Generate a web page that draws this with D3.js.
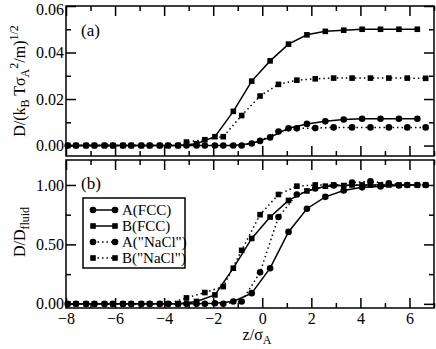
<!DOCTYPE html>
<html>
<head>
<meta charset="utf-8">
<script src="https://cdn.jsdelivr.net/npm/d3@7"></script>
<style>
  body { margin: 0; background: #fff; }
  svg text { font-family: "Liberation Serif", "DejaVu Serif", serif; }
  .axis path { stroke: #000; stroke-width: 1.5; }
  .axis line { stroke: #000; stroke-width: 1.5; }
  .axis text { font-size: 16px; fill: #000; }
</style>
</head>
<body>
<div id="chart"></div>
<script>
// z positions (in units of sigma_A) of the two sampling grids
var zFCC = [-7.93, -7.18, -6.43, -5.68, -4.93, -4.18, -3.43, -2.68, -1.93, -1.18,
            -0.43, 0.32, 1.07, 1.82, 2.57, 3.32, 4.07, 4.82, 5.57, 6.32];
var zNaCl = [-7.59, -6.84, -6.09, -5.34, -4.59, -3.84, -3.09, -2.34, -1.59, -0.84,
             -0.09, 0.66, 1.41, 2.16, 2.91, 3.66, 4.41, 5.16, 5.91, 6.66];

// panel (a): D in units of (kB T sigma_A^2 / m)^1/2
var topA_FCC = [0, 0, 0, 0, 0, 0, 0, 0, 0, 0,
                0.0009, 0.0035, 0.0074, 0.0093, 0.0104, 0.0112, 0.0115, 0.0115, 0.0115, 0.0115];
var topB_FCC = [0, 0, 0, 0, 0, 0, 0, 0.0008, 0.0038, 0.0147,
                0.0277, 0.0364, 0.0436, 0.0476, 0.0491, 0.0496, 0.0500, 0.0500, 0.0500, 0.0500];
var topA_NaCl = [0, 0, 0, 0, 0, 0, 0, 0, 0, 0,
                 0.0020, 0.0060, 0.0074, 0.0075, 0.0078, 0.0078, 0.0078, 0.0078, 0.0078, 0.0078];
var topB_NaCl = [0, 0, 0, 0, 0, 0, 0.0015, 0.0025, 0.0038, 0.0129,
                 0.0213, 0.0263, 0.0281, 0.0287, 0.0290, 0.0290, 0.0290, 0.0290, 0.0290, 0.0289];

// panel (b): D / D_fluid
var botA_FCC = [0, 0, 0, 0, 0, 0, 0, 0, 0.005, 0.02,
                0.09, 0.30, 0.605, 0.80, 0.90, 0.954, 0.98, 0.987, 0.996, 1.0];
var botB_FCC = [0, 0, 0, 0, 0, 0, 0, 0.02, 0.075, 0.30,
                0.55, 0.73, 0.87, 0.95, 0.99, 0.995, 1.0, 1.0, 1.0, 1.0];
var botA_NaCl = [0, 0, 0, 0, 0, 0, 0, 0, 0, 0.02,
                 0.265, 0.73, 0.92, 0.97, 0.995, 1.02, 1.03, 1.015, 1.0, 1.0];
var botB_NaCl = [0, 0, 0, 0, 0, 0, 0.05, 0.095, 0.145, 0.45,
                 0.75, 0.92, 0.99, 1.0, 1.0, 1.0, 1.0, 1.0, 1.0, 1.0];

var legendLabels = ["A(FCC)", "B(FCC)", "A(\"NaCl\")", "B(\"NaCl\")"];
var xTicks = [-8, -6, -4, -2, 0, 2, 4, 6];
var xMinor = [-7, -5, -3, -1, 1, 3, 5, 7];
var topTicks = [0, 0.02, 0.04, 0.06];
var topMinor = [0.01, 0.03, 0.05];
var botTicks = [0, 0.5, 1.0];
var botMinor = [0.25, 0.75];

var svgWidth = 436;
var svgHeight = 349;
var left = 66, right = 434;
var serif = "'Liberation Serif', 'DejaVu Serif', serif";

var svg = d3.select("#chart")
  .append("svg")
  .attr("width", svgWidth)
  .attr("height", svgHeight);

var x = d3.scaleLinear().domain([-8, 7]).range([left, right]);

var yTop = d3.scaleLinear().domain([-0.0045, 0.06]).range([156, 6]);
var yBot = d3.scaleLinear().domain([-0.035, 1.21]).range([308, 160]);

var fmt = d3.format(".2f");

// frame with inward ticks on all four sides
function drawFrame(y, top, bottom, major, minor, showX) {
  var g = svg.append("g");

  g.append("g").attr("class", "axis")
    .attr("transform", `translate(0,${bottom})`)
    .call(d3.axisBottom(x).tickValues(xTicks).tickSize(-10).tickPadding(5)
      .tickFormat(showX ? d3.format("") : ""));
  g.append("g").attr("class", "axis")
    .attr("transform", `translate(0,${bottom})`)
    .call(d3.axisBottom(x).tickValues(xMinor).tickSize(-5).tickFormat(""));

  g.append("g").attr("class", "axis")
    .attr("transform", `translate(0,${top})`)
    .call(d3.axisTop(x).tickValues(xTicks).tickSize(-10).tickFormat(""));
  g.append("g").attr("class", "axis")
    .attr("transform", `translate(0,${top})`)
    .call(d3.axisTop(x).tickValues(xMinor).tickSize(-5).tickFormat(""));

  g.append("g").attr("class", "axis")
    .attr("transform", `translate(${left},0)`)
    .call(d3.axisLeft(y).tickValues(major).tickSize(-10).tickPadding(2).tickFormat(fmt));
  g.append("g").attr("class", "axis")
    .attr("transform", `translate(${left},0)`)
    .call(d3.axisLeft(y).tickValues(minor).tickSize(-5).tickFormat(""));

  g.append("g").attr("class", "axis")
    .attr("transform", `translate(${right},0)`)
    .call(d3.axisRight(y).tickValues(major).tickSize(-10).tickFormat(""));
  g.append("g").attr("class", "axis")
    .attr("transform", `translate(${right},0)`)
    .call(d3.axisRight(y).tickValues(minor).tickSize(-5).tickFormat(""));

  g.selectAll("g.axis").attr("font-family", serif);
  g.selectAll("path.domain").remove();
  g.append("rect")
    .attr("x", left).attr("y", top)
    .attr("width", right - left).attr("height", bottom - top)
    .attr("fill", "none").attr("stroke", "#000").attr("stroke-width", 1.5);
}

drawFrame(yTop, 6, 156, topTicks, topMinor, false);
drawFrame(yBot, 160, 308, botTicks, botMinor, true);

// keep the top label inside the picture
svg.selectAll("g.axis text").filter(function() { return this.textContent == "0.06"; })
  .attr("dy", "0.5em");

// series drawing
function drawSeries(y, zs, vals, shape, dotted) {
  var pts = zs.map(function(z, i) { return [z, vals[i]]; });
  var line = d3.line().x(d => x(d[0])).y(d => y(d[1]));
  svg.append("path")
    .datum(pts)
    .attr("d", line)
    .attr("fill", "none")
    .attr("stroke", "#000")
    .attr("stroke-width", 1.5)
    .attr("stroke-dasharray", dotted ? "1.5,3" : null);

  if (shape == "circle") {
    svg.selectAll(null).data(pts).enter().append("circle")
      .attr("cx", d => x(d[0]))
      .attr("cy", d => y(d[1]))
      .attr("r", 3.3)
      .attr("fill", "#000");
  } else {
    svg.selectAll(null).data(pts).enter().append("rect")
      .attr("x", d => x(d[0]) - 2.8)
      .attr("y", d => y(d[1]) - 2.8)
      .attr("width", 5.6)
      .attr("height", 5.6)
      .attr("fill", "#000");
  }
}

drawSeries(yTop, zFCC, topA_FCC, "circle", false);
drawSeries(yTop, zFCC, topB_FCC, "square", false);
drawSeries(yTop, zNaCl, topA_NaCl, "circle", true);
drawSeries(yTop, zNaCl, topB_NaCl, "square", true);

drawSeries(yBot, zFCC, botA_FCC, "circle", false);
drawSeries(yBot, zFCC, botB_FCC, "square", false);
drawSeries(yBot, zNaCl, botA_NaCl, "circle", true);
drawSeries(yBot, zNaCl, botB_NaCl, "square", true);

// panel labels
svg.append("text").attr("x", 81).attr("y", 36)
  .style("font-family", serif).style("font-size", "17px").text("(a)");
svg.append("text").attr("x", 81).attr("y", 189)
  .style("font-family", serif).style("font-size", "17px").text("(b)");

// legend
var legend = svg.append("g");
legend.append("rect")
  .attr("x", 83).attr("y", 198).attr("width", 102).attr("height", 70)
  .attr("fill", "#fff").attr("stroke", "#000").attr("stroke-width", 1.5);

var legendShapes = ["circle", "square", "circle", "square"];
var legendDotted = [false, false, true, true];
legendLabels.forEach(function(lbl, i) {
  var ly = 210 + i * 16;
  legend.append("line")
    .attr("x1", 93).attr("x2", 115).attr("y1", ly).attr("y2", ly)
    .attr("stroke", "#000").attr("stroke-width", 1.5)
    .attr("stroke-dasharray", legendDotted[i] ? "1.5,3" : null);
  [93, 115].forEach(function(cx) {
    if (legendShapes[i] == "circle") {
      legend.append("circle").attr("cx", cx).attr("cy", ly).attr("r", 3.3).attr("fill", "#000");
    } else {
      legend.append("rect").attr("x", cx - 2.8).attr("y", ly - 2.8)
        .attr("width", 5.6).attr("height", 5.6).attr("fill", "#000");
    }
  });
  legend.append("text")
    .attr("x", 122).attr("y", ly + 5)
    .style("font-family", serif)
    .style("font-size", "15px")
    .text(lbl);
});

// axis titles
var yTitleTop = svg.append("text")
  .attr("transform", "translate(25,81) rotate(-90)")
  .style("text-anchor", "middle")
  .style("font-family", serif)
  .style("font-size", "16px");
yTitleTop.append("tspan").text("D/(k");
yTitleTop.append("tspan").attr("dy", 4).style("font-size", "12px").text("B");
yTitleTop.append("tspan").attr("dy", -4).text(" Tσ");
yTitleTop.append("tspan").attr("dy", 4).style("font-size", "12px").text("A");
yTitleTop.append("tspan").attr("dy", -11).style("font-size", "12px").text("2");
yTitleTop.append("tspan").attr("dy", 7).text("/m)");
yTitleTop.append("tspan").attr("dy", -7).style("font-size", "12px").text("1/2");

var yTitleBot = svg.append("text")
  .attr("transform", "translate(25,232) rotate(-90)")
  .style("text-anchor", "middle")
  .style("font-family", serif)
  .style("font-size", "16px");
yTitleBot.append("tspan").text("D/D");
yTitleBot.append("tspan").attr("dy", 4).style("font-size", "12px").text("fluid");

var xTitle = svg.append("text")
  .attr("x", 257).attr("y", 340)
  .style("text-anchor", "middle")
  .style("font-family", serif)
  .style("font-size", "16px");
xTitle.append("tspan").text("z/σ");
xTitle.append("tspan").attr("dy", 4).style("font-size", "12px").text("A");
</script>
</body>
</html>
